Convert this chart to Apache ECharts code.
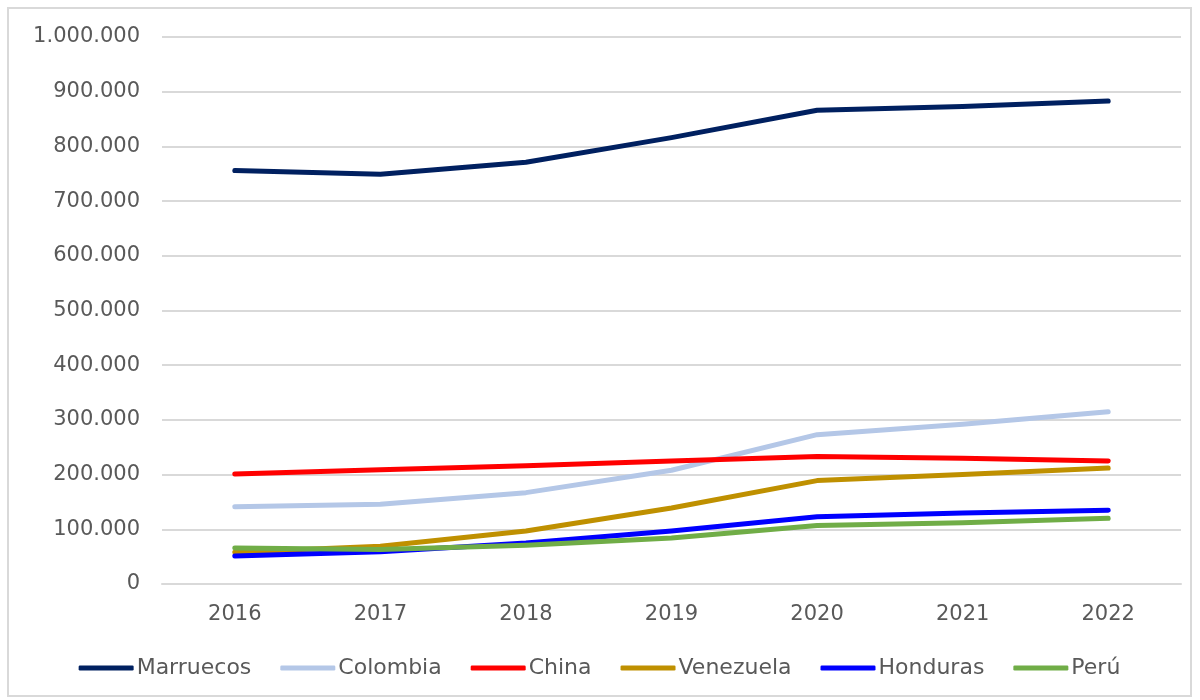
<!DOCTYPE html>
<html>
<head>
<meta charset="utf-8">
<script src="https://cdn.jsdelivr.net/npm/echarts@6/dist/echarts.min.js"></script>
<style>
  html, body { margin: 0; padding: 0; background: #fff; }
  #chart { position: absolute; left: 7px; top: 7px; width: 1185px; height: 690px;
    border: 2px solid #d9d9d9; box-sizing: border-box; }
</style>
</head>
<body>
<div id="chart"></div>
<script>
const years = ['2016', '2017', '2018', '2019', '2020', '2021', '2022']

const marruecos = [756000, 749000, 771000, 816000, 866000, 873000, 883000]
const colombia = [141000, 146000, 167000, 208000, 273000, 292000, 315000]
const china = [201000, 209000, 216000, 225000, 233000, 230000, 225000]
const venezuela = [58000, 69000, 97000, 139000, 189000, 200000, 212000]
const honduras = [51000, 59000, 75000, 97000, 123000, 130000, 135000]
const peru = [66000, 63000, 71000, 84000, 107000, 112000, 120000]

const seriesList = [
  { name: 'Marruecos', data: marruecos, color: '#002060' },
  { name: 'Colombia', data: colombia, color: '#b4c7e7' },
  { name: 'China', data: china, color: '#ff0000' },
  { name: 'Venezuela', data: venezuela, color: '#bf9000' },
  { name: 'Honduras', data: honduras, color: '#0000ff' },
  { name: 'Perú', data: peru, color: '#70ad47' },
]

const fmt = (v) => String(v).replace(/\B(?=(\d{3})+(?!\d))/g, '.')

const chart = echarts.init(document.getElementById('chart'))
chart.setOption({
  animation: false,
  textStyle: { fontFamily: 'DejaVu Sans' },
  grid: { left: 153, right: 9, top: 28, bottom: 111, containLabel: false },
  legend: {
    bottom: 11,
    left: 'center',
    itemWidth: 55,
    itemHeight: 5,
    itemGap: 29,
    icon: 'roundRect',
    textStyle: { color: '#595959', fontSize: 22, padding: [0, 0, 0, -2] },
    data: seriesList.map((s) => s.name),
  },
  xAxis: {
    type: 'category',
    data: years,
    boundaryGap: true,
    axisLine: { show: true, lineStyle: { color: '#d9d9d9', width: 2 } },
    axisTick: { show: false },
    axisLabel: { color: '#595959', fontSize: 21, margin: 20 },
  },
  yAxis: {
    type: 'value',
    min: 0,
    max: 1000000,
    interval: 100000,
    axisLine: { show: false },
    axisTick: { show: false },
    splitLine: { lineStyle: { color: '#d9d9d9', width: 2 } },
    axisLabel: { color: '#595959', fontSize: 21, margin: 22, formatter: fmt },
  },
  series: seriesList.map((s) => ({
    name: s.name,
    type: 'line',
    data: s.data,
    color: s.color,
    symbol: 'none',
    lineStyle: { width: 5, cap: 'round', join: 'round' },
  })),
})
</script>
</body>
</html>
